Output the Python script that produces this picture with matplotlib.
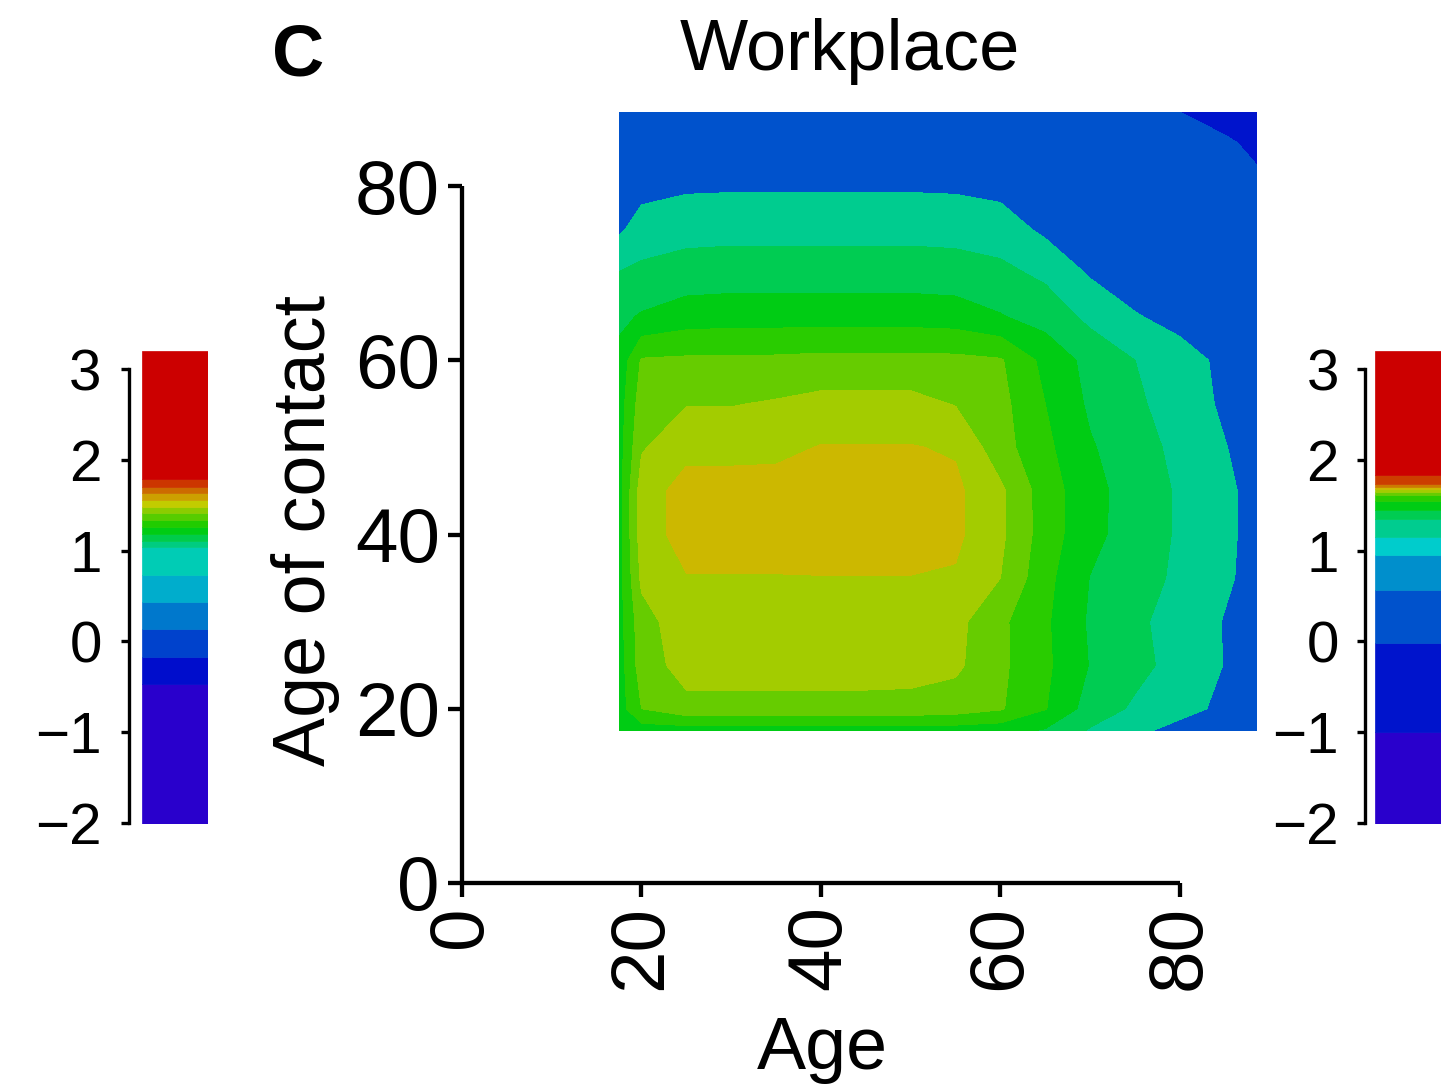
import numpy as np
import matplotlib
matplotlib.use("Agg")
import matplotlib.pyplot as plt

plt.rcParams["font.family"] = ["Liberation Sans", "DejaVu Sans"]

# =========================
# Data
# =========================
ages = [17.5, 20, 25, 30, 35, 40, 45, 50, 55, 60, 65, 70, 75, 80, 85, 88.5]

# colour-band level of the workplace map
# rows = age of contact (low -> high), columns = age (same grid as `ages`)
contact_level = [
    [4.4, 4.5, 4.5, 4.5, 4.5, 4.5, 4.5, 4.5, 4.5, 4.4, 3.9, 2.9, 2.2, 1.7, 1.5, 1.4],              # 17.5
    [4.5, 6.0, 6.7, 6.7, 6.7, 6.7, 6.7, 6.65, 6.5, 6.1, 5.05, 3.56, 2.84, 2.3, 1.8, 1.5],          # 20
    [4.5, 6.5, 7.4, 7.4, 7.4, 7.4, 7.4, 7.4, 7.2, 6.2, 5.2, 3.95, 3.3, 2.64, 1.97, 1.6],           # 25
    [4.6, 6.6, 7.62, 7.62, 7.62, 7.62, 7.62, 7.62, 7.3, 6.2, 5.15, 3.86, 3.2, 2.58, 1.95, 1.6],    # 30
    [4.6, 7.2, 7.95, 7.95, 7.95, 7.97, 7.97, 7.97, 7.9, 7.0, 5.3, 3.97, 3.41, 2.81, 2.14, 1.7],    # 35
    [4.6, 7.5, 8.4, 8.45, 8.45, 8.45, 8.45, 8.45, 8.2, 7.2, 5.5, 4.3, 3.5, 2.88, 2.2, 1.7],        # 40
    [4.6, 7.5, 8.4, 8.4, 8.4, 8.45, 8.45, 8.45, 8.2, 7.2, 5.49, 4.34, 3.53, 2.88, 2.2, 1.7],       # 45
    [4.55, 6.9, 7.7, 7.7, 7.75, 8.05, 8.05, 8.05, 7.9, 6.4, 5.23, 4.1, 3.4, 2.74, 2.04, 1.6],      # 50
    [4.5, 6.5, 6.95, 6.95, 7.1, 7.31, 7.31, 7.31, 6.95, 6.3, 5.0, 3.83, 3.19, 2.49, 1.85, 1.5],    # 55
    [4.3, 6.1, 6.17, 6.17, 6.2, 6.28, 6.28, 6.28, 6.25, 6.1, 4.7, 3.68, 3.0, 2.36, 1.8, 1.5],      # 60
    [3.76, 4.1, 4.5, 4.58, 4.58, 4.58, 4.58, 4.58, 4.5, 4.07, 3.6, 2.75, 2.07, 1.7, 1.4, 1.3],     # 65
    [3.05, 3.25, 3.45, 3.5, 3.5, 3.5, 3.5, 3.5, 3.45, 3.25, 2.8, 1.9, 1.5, 1.35, 1.3, 1.2],        # 70
    [1.85, 2.4, 2.65, 2.7, 2.7, 2.7, 2.7, 2.7, 2.65, 2.5, 1.8, 1.5, 1.35, 1.3, 1.25, 1.15],        # 75
    [1.6, 1.7, 1.85, 1.88, 1.88, 1.88, 1.88, 1.88, 1.85, 1.7, 1.55, 1.4, 1.3, 1.25, 1.2, 1.15],    # 80
    [1.4, 1.5, 1.6, 1.65, 1.65, 1.65, 1.65, 1.65, 1.6, 1.55, 1.45, 1.35, 1.25, 1.2, 1.1, 0.85],    # 85
    [1.3, 1.4, 1.45, 1.5, 1.5, 1.5, 1.5, 1.5, 1.45, 1.4, 1.3, 1.2, 1.1, 1.0, 0.7, 0.35],           # 88.5
]

map_bands = [0, 1, 2, 3, 4, 5, 6, 7, 8, 9]
map_colors = ["#0014CC", "#0052CC", "#00CC8F", "#00CC52", "#00CC14",
              "#29CC00", "#66CC00", "#A3CC00", "#CCB800"]

# colour keys (band edges bottom -> top)
left_key_edges = [-2.018, -0.471, -0.169, 0.132, 0.430, 0.732, 1.037, 1.110, 1.184,
                  1.265, 1.338, 1.412, 1.485, 1.559, 1.632, 1.706, 1.787, 3.205]
left_key_colors = ["#2900CC", "#000DCC", "#0042CC", "#0078CC", "#00ADCC", "#00CCB5",
                   "#00CC80", "#00CC4A", "#00CC14", "#21CC00", "#57CC00", "#8CCC00",
                   "#C2CC00", "#CCA000", "#CC6B00", "#CC3500", "#CC0000"]

right_key_edges = [-2.018, -0.995, -0.021, 0.567, 0.953, 1.148, 1.346, 1.449,
                   1.551, 1.611, 1.647, 1.677, 1.706, 1.735, 1.835, 3.205]
right_key_colors = ["#2900CC", "#0014CC", "#0052CC", "#008FCC", "#00CCCC", "#00CC8F",
                    "#00CC52", "#00CC14", "#29CC00", "#66CC00", "#A3CC00", "#CCB800",
                    "#CC7A00", "#CC3D00", "#CC0000"]

key_ticks = [-2, -1, 0, 1, 2, 3]
age_ticks = [0, 20, 40, 60, 80]

# =========================
# Main panel
# =========================
fig = plt.figure(figsize=(14.41, 10.87), dpi=100)
ax = fig.add_axes([0.3206, 0.1877, 0.5605, 0.7212])

ax.contourf(ages, ages, np.array(contact_level), levels=map_bands, colors=map_colors)

ax.set_xlim(0, 90)
ax.set_ylim(0, 90)
for s in ["top", "right"]:
    ax.spines[s].set_visible(False)
for s in ["left", "bottom"]:
    ax.spines[s].set_linewidth(3.1)
    ax.spines[s].set_bounds(0, 80)
    ax.spines[s].set_capstyle("butt")

ax.set_xticks(age_ticks)
ax.set_yticks(age_ticks)
ax.tick_params(direction="out", length=10, width=3.1, labelsize=55)
ax.tick_params(axis="y", pad=6)
ax.tick_params(axis="x", pad=6, labelrotation=90)

ax.set_xlabel("Age", fontsize=53)
ax.xaxis.set_label_coords(0.4457, -0.168)
ax.set_ylabel("Age of contact", fontsize=53)
ax.yaxis.set_label_coords(-0.151, 0.450)
ax.set_title("Workplace", fontsize=52, x=0.4803, y=1.037, pad=0)

fig.text(0.189, 0.931, "C", fontsize=52, fontweight="bold", ha="left", va="baseline")


# =========================
# Colour keys
# =========================
def draw_key(rect, edges, colors, offset, pad):
    cax = fig.add_axes(rect)
    cax.bar(0, np.diff(edges), bottom=edges[:-1], width=1, align="edge",
            color=colors, edgecolor=colors, linewidth=0.5)
    cax.set_xlim(0, 1)
    cax.set_ylim(edges[0], edges[-1])
    for s in ["top", "right", "bottom"]:
        cax.spines[s].set_visible(False)
    cax.spines["left"].set_position(("outward", offset))
    cax.spines["left"].set_bounds(-2, 3)
    cax.spines["left"].set_linewidth(2.4)
    cax.set_xticks([])
    cax.set_yticks(key_ticks)
    cax.tick_params(axis="y", direction="out", length=6, width=2.4, pad=pad, labelsize=42)
    return cax


draw_key([0.09854, 0.2417, 0.0458, 0.4357], left_key_edges, left_key_colors, 9, 14)
draw_key([0.95420, 0.2417, 0.0458, 0.4357], right_key_edges, right_key_colors, 7.5, 12.5)

fig.savefig("out.png", dpi=100)
